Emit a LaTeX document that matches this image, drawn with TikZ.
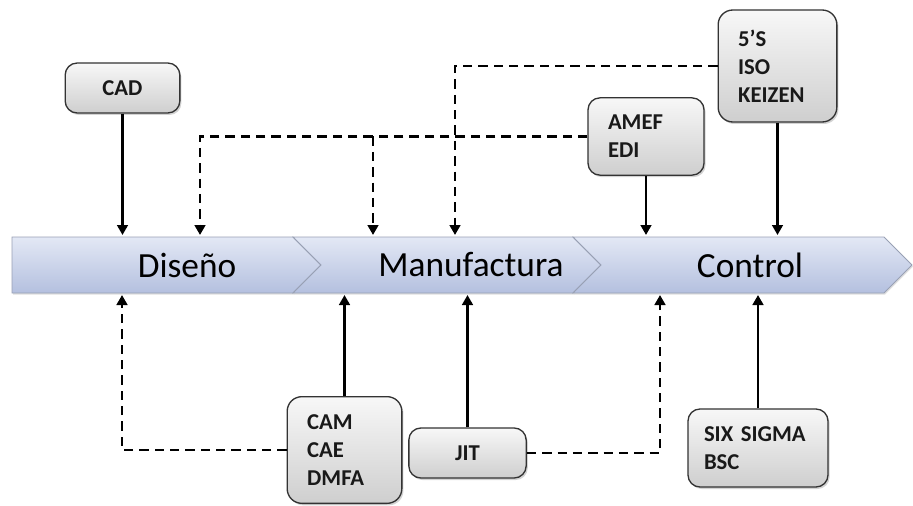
\documentclass[tikz,border=0pt]{standalone}
\usepackage{fontspec}
\setmainfont{Carlito}
\usetikzlibrary{arrows.meta, positioning, calc, shadows}
\definecolor{barTop}{HTML}{E3E8F5}
\definecolor{barBot}{HTML}{B4C0DF}
\definecolor{barEdge}{HTML}{98A0B4}
\tikzstyle{chevron} = [draw=barEdge, line width=0.6pt, top color=barTop, bottom color=barBot, drop shadow={opacity=0.25, shadow xshift=0.8pt, shadow yshift=-1.2pt}]
\tikzstyle{stage} = [font=\fontsize{26.5}{30}\selectfont, text=black]
\tikzstyle{tool} = [rectangle, rounded corners=9pt, draw=black!80, line width=1pt, top color=gray!6, bottom color=gray!38, drop shadow={opacity=0.35, shadow xshift=1.2pt, shadow yshift=-1.5pt}, font=\fontsize{17}{21}\selectfont\bfseries, text=black!90, inner xsep=15pt, inner ysep=0pt, align=left]
\tikzstyle{link} = [line width=1.8pt, -{Triangle[width=8pt,length=7.5pt]}]
\tikzstyle{dlink} = [link, line width=2.1pt, dash pattern=on 7pt off 4.5pt]

\begin{document}
\begin{tikzpicture}[x=0.75pt, y=-0.75pt]
    \useasboundingbox (0,0) rectangle (913,506);
% Process bar
    \path[chevron] (12,237) -- (293,237) -- (321,265) -- (293,293) -- (12,293) -- cycle;
    \path[chevron] (293,237) -- (573,237) -- (601,265) -- (573,293) -- (293,293) -- (321,265) -- cycle;
    \path[chevron] (573,237) -- (884,237) -- (912,265) -- (884,293) -- (573,293) -- (601,265) -- cycle;
    \node (diseno) [stage] at (187,265) {Diseño};
    \node (manuf) [stage] at (471,265) {Manufactura};
    \node (control) [stage] at (750,265) {Control};
    \coordinate (bartop) at (0,235);
    \coordinate (barbot) at (0,295);

    % Tools above
    \node (cad) [tool, align=center, minimum width=86pt, minimum height=37.5pt] at (122.5,88) {CAD};
    \node (amef) [tool, text width=57pt, minimum height=58pt] at (646,136.5) {AMEF\\EDI};
    \node (kaizen) [tool, rounded corners=11pt, text width=59pt, minimum height=84pt] at (777.5,66) {5’S\\ISO\\KEIZEN};

    % Tools below
    \node (cam) [tool, rounded corners=11pt, text width=56pt, minimum height=80pt] at (344.5,450) {CAM\\CAE\\DMFA};
    \node (jit) [tool, align=center, minimum width=88pt, minimum height=37.5pt] at (467.5,453) {JIT};
    \node (six) [tool, inner xsep=12pt, text width=81pt, minimum height=58.5pt] at (758,448) {SIX SIGMA\\BSC};

    % Drop points of the dashed links
    \coordinate (tDis) at (200,235);
    \coordinate (tMan) at (373,235);
    \coordinate (tManB) at (455,235);
    \coordinate (bDis) at (122,295);
    \coordinate (bCon) at (660,295);

    % Links
    \draw [link] (cad) -- (cad |- bartop);
    \draw [link] (amef) -- (amef |- bartop);
    \draw [link] (kaizen) -- (kaizen |- bartop);
    \draw [link] (cam) -- (cam |- barbot);
    \draw [link] (jit) -- (jit |- barbot);
    \draw [link] (six) -- (six |- barbot);
    \draw [dlink] (amef.west) -| (tDis);
    \draw [dlink] (tMan |- amef.west) -- (tMan);
    \draw [dlink] (kaizen.west) -| (tManB);
    \draw [dlink] (cam.west) -| (bDis);
    \draw [dlink] (jit.east) -| (bCon);
\end{tikzpicture}
\end{document}
